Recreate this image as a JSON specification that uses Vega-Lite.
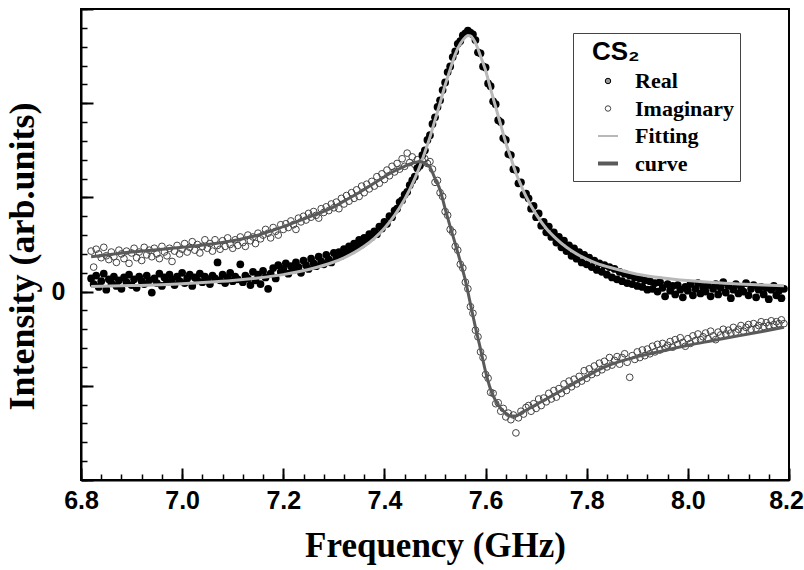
{
  "$schema": "https://vega.github.io/schema/vega-lite/v6.json",
  "width": 708,
  "height": 471,
  "autosize": {"type": "none"},
  "padding": {"left": 81, "top": 9, "right": 15, "bottom": 90},
  "background": "white",
  "config": {
    "view": {"stroke": "black", "strokeWidth": 2},
    "axis": {"domainColor": "black", "domainWidth": 2, "tickColor": "black", "grid": false, "labelColor": "black", "titleColor": "black"}
  },
  "datasets": {
    "pts": [
      {"f":6.820,"re":0.14,"im":0.43},{"f":6.825,"re":0.08,"im":0.26},{"f":6.830,"re":0.17,"im":0.45},{"f":6.835,"re":0.05,"im":0.40},{"f":6.840,"re":0.11,"im":0.36},
      {"f":6.845,"re":0.19,"im":0.47},{"f":6.850,"re":0.02,"im":0.38},{"f":6.855,"re":0.13,"im":0.34},{"f":6.860,"re":0.09,"im":0.42},{"f":6.865,"re":0.16,"im":0.37},
      {"f":6.870,"re":0.06,"im":0.31},{"f":6.875,"re":0.12,"im":0.44},{"f":6.880,"re":0.03,"im":0.40},{"f":6.885,"re":0.15,"im":0.35},{"f":6.890,"re":0.10,"im":0.43},
      {"f":6.895,"re":0.18,"im":0.30},{"f":6.900,"re":0.07,"im":0.41},{"f":6.905,"re":0.13,"im":0.46},{"f":6.910,"re":0.04,"im":0.36},{"f":6.915,"re":0.16,"im":0.42},
      {"f":6.920,"re":0.11,"im":0.33},{"f":6.925,"re":0.08,"im":0.47},{"f":6.930,"re":0.17,"im":0.39},{"f":6.935,"re":0.12,"im":0.44},{"f":6.940,"re":-0.01,"im":0.37},
      {"f":6.945,"re":0.14,"im":0.46},{"f":6.950,"re":0.09,"im":0.40},{"f":6.955,"re":0.19,"im":0.35},{"f":6.960,"re":0.06,"im":0.48},{"f":6.965,"re":0.15,"im":0.42},
      {"f":6.970,"re":0.10,"im":0.38},{"f":6.975,"re":0.18,"im":0.46},{"f":6.980,"re":0.13,"im":0.32},{"f":6.985,"re":0.07,"im":0.43},{"f":6.990,"re":0.16,"im":0.49},
      {"f":6.995,"re":0.11,"im":0.40},{"f":7.000,"re":0.20,"im":0.45},{"f":7.005,"re":0.09,"im":0.51},{"f":7.010,"re":0.14,"im":0.42},{"f":7.015,"re":0.18,"im":0.47},
      {"f":7.020,"re":0.06,"im":0.53},{"f":7.025,"re":0.15,"im":0.44},{"f":7.030,"re":0.12,"im":0.50},{"f":7.035,"re":0.19,"im":0.41},{"f":7.040,"re":0.10,"im":0.48},
      {"f":7.045,"re":0.16,"im":0.55},{"f":7.050,"re":0.13,"im":0.46},{"f":7.055,"re":0.08,"im":0.51},{"f":7.060,"re":0.17,"im":0.43},{"f":7.065,"re":0.14,"im":0.55},
      {"f":7.070,"re":0.31,"im":0.49},{"f":7.075,"re":0.12,"im":0.45},{"f":7.080,"re":0.18,"im":0.54},{"f":7.085,"re":0.09,"im":0.48},{"f":7.090,"re":0.15,"im":0.57},
      {"f":7.095,"re":0.20,"im":0.50},{"f":7.100,"re":0.11,"im":0.46},{"f":7.105,"re":0.16,"im":0.55},{"f":7.110,"re":0.13,"im":0.49},{"f":7.115,"re":0.29,"im":0.58},
      {"f":7.120,"re":0.10,"im":0.52},{"f":7.125,"re":0.17,"im":0.48},{"f":7.130,"re":0.14,"im":0.60},{"f":7.135,"re":0.07,"im":0.54},{"f":7.140,"re":0.21,"im":0.58},
      {"f":7.145,"re":0.12,"im":0.51},{"f":7.150,"re":0.18,"im":0.62},{"f":7.155,"re":0.08,"im":0.56},{"f":7.160,"re":0.22,"im":0.60},{"f":7.165,"re":0.15,"im":0.66},
      {"f":7.170,"re":0.03,"im":0.62},{"f":7.175,"re":0.19,"im":0.57},{"f":7.180,"re":0.25,"im":0.68},{"f":7.185,"re":0.14,"im":0.64},{"f":7.190,"re":0.28,"im":0.60},
      {"f":7.195,"re":0.21,"im":0.71},{"f":7.200,"re":0.24,"im":0.66},{"f":7.205,"re":0.30,"im":0.72},{"f":7.210,"re":0.19,"im":0.68},{"f":7.215,"re":0.27,"im":0.75},
      {"f":7.220,"re":0.23,"im":0.71},{"f":7.225,"re":0.31,"im":0.66},{"f":7.230,"re":0.26,"im":0.78},{"f":7.235,"re":0.20,"im":0.74},{"f":7.240,"re":0.33,"im":0.80},
      {"f":7.245,"re":0.28,"im":0.76},{"f":7.250,"re":0.24,"im":0.83},{"f":7.255,"re":0.35,"im":0.79},{"f":7.260,"re":0.30,"im":0.85},{"f":7.265,"re":0.27,"im":0.81},
      {"f":7.270,"re":0.37,"im":0.78},{"f":7.275,"re":0.32,"im":0.88},{"f":7.280,"re":0.29,"im":0.84},{"f":7.285,"re":0.39,"im":0.90},{"f":7.290,"re":0.34,"im":0.86},
      {"f":7.295,"re":0.31,"im":0.93},{"f":7.300,"re":0.41,"im":0.89},{"f":7.305,"re":0.36,"im":0.95},{"f":7.310,"re":0.42,"im":0.88},{"f":7.315,"re":0.38,"im":0.99},
      {"f":7.320,"re":0.45,"im":0.93},{"f":7.325,"re":0.41,"im":1.02},{"f":7.330,"re":0.48,"im":0.96},{"f":7.335,"re":0.44,"im":1.05},{"f":7.340,"re":0.51,"im":0.99},
      {"f":7.345,"re":0.47,"im":1.08},{"f":7.350,"re":0.55,"im":1.01},{"f":7.355,"re":0.50,"im":1.12},{"f":7.360,"re":0.57,"im":1.05},{"f":7.365,"re":0.54,"im":1.14},
      {"f":7.370,"re":0.61,"im":1.09},{"f":7.375,"re":0.58,"im":1.17},{"f":7.380,"re":0.64,"im":1.12},{"f":7.385,"re":0.61,"im":1.22},{"f":7.390,"re":0.69,"im":1.15},
      {"f":7.395,"re":0.67,"im":1.25},{"f":7.400,"re":0.74,"im":1.19},{"f":7.405,"re":0.72,"im":1.29},{"f":7.410,"re":0.80,"im":1.23},{"f":7.415,"re":0.79,"im":1.33},
      {"f":7.420,"re":0.86,"im":1.27},{"f":7.425,"re":0.88,"im":1.36},{"f":7.430,"re":0.95,"im":1.30},{"f":7.435,"re":0.97,"im":1.41},{"f":7.440,"re":1.03,"im":1.33},
      {"f":7.445,"re":1.06,"im":1.47},{"f":7.450,"re":1.13,"im":1.37},{"f":7.455,"re":1.18,"im":1.43},{"f":7.460,"re":1.22,"im":1.35},{"f":7.465,"re":1.31,"im":1.40},
      {"f":7.470,"re":1.34,"im":1.33},{"f":7.475,"re":1.45,"im":1.39},{"f":7.480,"re":1.50,"im":1.41},{"f":7.485,"re":1.61,"im":1.36},{"f":7.490,"re":1.66,"im":1.38},
      {"f":7.495,"re":1.78,"im":1.30},{"f":7.500,"re":1.85,"im":1.16},{"f":7.505,"re":1.96,"im":1.18},{"f":7.510,"re":2.03,"im":1.05},{"f":7.515,"re":2.14,"im":1.01},
      {"f":7.520,"re":2.22,"im":0.85},{"f":7.525,"re":2.33,"im":0.81},{"f":7.530,"re":2.39,"im":0.66},{"f":7.535,"re":2.49,"im":0.63},{"f":7.540,"re":2.55,"im":0.48},
      {"f":7.545,"re":2.63,"im":0.44},{"f":7.550,"re":2.66,"im":0.29},{"f":7.555,"re":2.72,"im":0.25},{"f":7.560,"re":2.74,"im":0.10},{"f":7.565,"re":2.77,"im":0.03},
      {"f":7.570,"re":2.75,"im":-0.16},{"f":7.575,"re":2.73,"im":-0.23},{"f":7.580,"re":2.67,"im":-0.41},{"f":7.585,"re":2.54,"im":-0.48},{"f":7.590,"re":2.53,"im":-0.64},
      {"f":7.595,"re":2.39,"im":-0.70},{"f":7.600,"re":2.38,"im":-0.88},{"f":7.605,"re":2.21,"im":-0.92},{"f":7.610,"re":2.18,"im":-1.07},{"f":7.615,"re":2.02,"im":-1.08},
      {"f":7.620,"re":1.99,"im":-1.19},{"f":7.625,"re":1.82,"im":-1.18},{"f":7.630,"re":1.80,"im":-1.27},{"f":7.635,"re":1.63,"im":-1.24},{"f":7.640,"re":1.61,"im":-1.33},
      {"f":7.645,"re":1.46,"im":-1.29},{"f":7.650,"re":1.45,"im":-1.36},{"f":7.655,"re":1.30,"im":-1.31},{"f":7.660,"re":1.29,"im":-1.50},{"f":7.665,"re":1.15,"im":-1.34},
      {"f":7.670,"re":1.16,"im":-1.27},{"f":7.675,"re":1.03,"im":-1.30},{"f":7.680,"re":1.04,"im":-1.23},{"f":7.685,"re":0.99,"im":-1.21},{"f":7.690,"re":0.88,"im":-1.27},
      {"f":7.695,"re":0.91,"im":-1.19},{"f":7.700,"re":0.79,"im":-1.24},{"f":7.705,"re":0.83,"im":-1.14},{"f":7.710,"re":0.70,"im":-1.21},{"f":7.715,"re":0.74,"im":-1.13},
      {"f":7.720,"re":0.63,"im":-1.17},{"f":7.725,"re":0.69,"im":-1.08},{"f":7.730,"re":0.58,"im":-1.14},{"f":7.735,"re":0.63,"im":-1.05},{"f":7.740,"re":0.52,"im":-1.12},
      {"f":7.745,"re":0.58,"im":-1.03},{"f":7.750,"re":0.47,"im":-1.08},{"f":7.755,"re":0.54,"im":-0.98},{"f":7.760,"re":0.43,"im":-1.05},{"f":7.765,"re":0.49,"im":-0.95},
      {"f":7.770,"re":0.38,"im":-1.01},{"f":7.775,"re":0.46,"im":-0.93},{"f":7.780,"re":0.35,"im":-0.98},{"f":7.785,"re":0.42,"im":-0.90},{"f":7.790,"re":0.31,"im":-0.95},
      {"f":7.795,"re":0.39,"im":-0.84},{"f":7.800,"re":0.29,"im":-0.92},{"f":7.805,"re":0.36,"im":-0.82},{"f":7.810,"re":0.26,"im":-0.88},{"f":7.815,"re":0.33,"im":-0.79},
      {"f":7.820,"re":0.23,"im":-0.86},{"f":7.825,"re":0.30,"im":-0.76},{"f":7.830,"re":0.21,"im":-0.83},{"f":7.835,"re":0.28,"im":-0.74},{"f":7.840,"re":0.18,"im":-0.80},
      {"f":7.845,"re":0.26,"im":-0.70},{"f":7.850,"re":0.15,"im":-0.78},{"f":7.855,"re":0.24,"im":-0.73},{"f":7.860,"re":0.13,"im":-0.69},{"f":7.865,"re":0.21,"im":-0.77},
      {"f":7.870,"re":0.11,"im":-0.70},{"f":7.875,"re":0.19,"im":-0.66},{"f":7.880,"re":0.09,"im":-0.75},{"f":7.885,"re":0.17,"im":-0.91},{"f":7.890,"re":0.08,"im":-0.68},
      {"f":7.895,"re":0.15,"im":-0.72},{"f":7.900,"re":0.06,"im":-0.64},{"f":7.905,"re":0.14,"im":-0.70},{"f":7.910,"re":0.05,"im":-0.62},{"f":7.915,"re":0.12,"im":-0.68},
      {"f":7.920,"re":0.02,"im":-0.61},{"f":7.925,"re":0.11,"im":-0.66},{"f":7.930,"re":0.03,"im":-0.58},{"f":7.935,"re":0.09,"im":-0.64},{"f":7.940,"re":0.00,"im":-0.56},
      {"f":7.945,"re":0.10,"im":-0.62},{"f":7.950,"re":0.04,"im":-0.55},{"f":7.955,"re":-0.05,"im":-0.60},{"f":7.960,"re":0.08,"im":-0.57},{"f":7.965,"re":0.01,"im":-0.53},
      {"f":7.970,"re":0.06,"im":-0.59},{"f":7.975,"re":-0.03,"im":-0.51},{"f":7.980,"re":0.07,"im":-0.56},{"f":7.985,"re":0.02,"im":-0.49},{"f":7.990,"re":-0.06,"im":-0.54},
      {"f":7.995,"re":0.05,"im":-0.58},{"f":8.000,"re":0.01,"im":-0.50},{"f":8.005,"re":0.08,"im":-0.55},{"f":8.010,"re":-0.04,"im":-0.47},{"f":8.015,"re":0.03,"im":-0.52},
      {"f":8.020,"re":0.09,"im":-0.45},{"f":8.025,"re":-0.02,"im":-0.51},{"f":8.030,"re":0.05,"im":-0.48},{"f":8.035,"re":0.00,"im":-0.44},{"f":8.040,"re":0.07,"im":-0.50},
      {"f":8.045,"re":-0.05,"im":-0.42},{"f":8.050,"re":0.03,"im":-0.47},{"f":8.055,"re":0.08,"im":-0.51},{"f":8.060,"re":-0.03,"im":-0.43},{"f":8.065,"re":0.04,"im":-0.46},
      {"f":8.070,"re":0.10,"im":-0.40},{"f":8.075,"re":-0.01,"im":-0.45},{"f":8.080,"re":0.06,"im":-0.41},{"f":8.085,"re":-0.07,"im":-0.44},{"f":8.090,"re":0.02,"im":-0.38},
      {"f":8.095,"re":0.08,"im":-0.43},{"f":8.100,"re":-0.02,"im":-0.40},{"f":8.105,"re":0.05,"im":-0.36},{"f":8.110,"re":0.00,"im":-0.42},{"f":8.115,"re":0.09,"im":-0.38},
      {"f":8.120,"re":-0.04,"im":-0.35},{"f":8.125,"re":0.03,"im":-0.40},{"f":8.130,"re":0.07,"im":-0.34},{"f":8.135,"re":-0.06,"im":-0.39},{"f":8.140,"re":0.02,"im":-0.36},
      {"f":8.145,"re":0.05,"im":-0.32},{"f":8.150,"re":-0.03,"im":-0.37},{"f":8.155,"re":0.04,"im":-0.33},{"f":8.160,"re":-0.08,"im":-0.36},{"f":8.165,"re":0.02,"im":-0.31},
      {"f":8.170,"re":0.06,"im":-0.35},{"f":8.175,"re":-0.04,"im":-0.32},{"f":8.180,"re":0.01,"im":-0.34},{"f":8.185,"re":-0.07,"im":-0.30},{"f":8.190,"re":0.03,"im":-0.34}
    ],
    "fit": [
      {"f":6.82,"fr":0.053,"fi":0.37},{"f":6.90,"fr":0.064,"fi":0.42},{"f":7.00,"fr":0.084,"fi":0.47},{"f":7.05,"fr":0.099,"fi":0.50},{"f":7.10,"fr":0.118,"fi":0.54},
      {"f":7.15,"fr":0.144,"fi":0.60},{"f":7.20,"fr":0.18,"fi":0.69},{"f":7.25,"fr":0.234,"fi":0.79},{"f":7.30,"fr":0.314,"fi":0.90},{"f":7.32,"fr":0.359,"fi":0.96},
      {"f":7.34,"fr":0.414,"fi":1.02},{"f":7.36,"fr":0.481,"fi":1.084},{"f":7.38,"fr":0.566,"fi":1.152},{"f":7.40,"fr":0.673,"fi":1.22},{"f":7.42,"fr":0.81,"fi":1.28},
      {"f":7.44,"fr":0.98,"fi":1.33},{"f":7.46,"fr":1.2,"fi":1.37},{"f":7.47,"fr":1.33,"fi":1.38},{"f":7.48,"fr":1.48,"fi":1.36},{"f":7.49,"fr":1.64,"fi":1.32},
      {"f":7.50,"fr":1.82,"fi":1.20},{"f":7.51,"fr":2.0,"fi":1.08},{"f":7.52,"fr":2.19,"fi":0.88},{"f":7.53,"fr":2.36,"fi":0.69},{"f":7.54,"fr":2.52,"fi":0.51},
      {"f":7.55,"fr":2.63,"fi":0.32},{"f":7.56,"fr":2.70,"fi":0.12},{"f":7.565,"fr":2.72,"fi":0.0},{"f":7.57,"fr":2.715,"fi":-0.13},{"f":7.58,"fr":2.64,"fi":-0.38},
      {"f":7.59,"fr":2.50,"fi":-0.61},{"f":7.60,"fr":2.35,"fi":-0.85},{"f":7.61,"fr":2.15,"fi":-1.04},{"f":7.62,"fr":1.96,"fi":-1.16},{"f":7.63,"fr":1.77,"fi":-1.24},
      {"f":7.64,"fr":1.58,"fi":-1.29},{"f":7.65,"fr":1.42,"fi":-1.32},{"f":7.66,"fr":1.26,"fi":-1.32},{"f":7.67,"fr":1.13,"fi":-1.29},{"f":7.68,"fr":1.01,"fi":-1.26},
      {"f":7.70,"fr":0.82,"fi":-1.20},{"f":7.72,"fr":0.67,"fi":-1.14},{"f":7.74,"fr":0.56,"fi":-1.08},{"f":7.76,"fr":0.47,"fi":-1.02},{"f":7.78,"fr":0.40,"fi":-0.96},
      {"f":7.80,"fr":0.345,"fi":-0.90},{"f":7.82,"fr":0.30,"fi":-0.84},{"f":7.85,"fr":0.25,"fi":-0.77},{"f":7.90,"fr":0.185,"fi":-0.69},{"f":7.95,"fr":0.145,"fi":-0.63},
      {"f":8.00,"fr":0.117,"fi":-0.57},{"f":8.05,"fr":0.096,"fi":-0.52},{"f":8.10,"fr":0.081,"fi":-0.47},{"f":8.15,"fr":0.07,"fi":-0.42},{"f":8.19,"fr":0.062,"fi":-0.38}
    ]
  },
  "layer": [
    {
      "data": {"name": "pts"},
      "mark": {"type": "point", "filled": false, "size": 45, "strokeWidth": 1, "opacity": 1},
      "encoding": {
        "x": {"field": "f", "type": "quantitative", "scale": {"domain": [6.8, 8.2], "nice": false, "zero": false},
          "axis": {"orient": "bottom", "values": [6.8, 7.0, 7.2, 7.4, 7.6, 7.8, 8.0, 8.2], "format": ".1f", "tickSize": -12, "tickWidth": 2,
            "labelFont": "Liberation Sans", "labelFontWeight": "bold", "labelFontSize": 25, "labelPadding": 20, "labelFlush": false, "labelOverlap": false,
            "labelOffset": {"condition": {"test": "datum.value > 8.19", "value": -3}, "value": 0},
            "title": "Frequency (GHz)", "titleFont": "Liberation Serif", "titleFontWeight": "bold", "titleFontSize": 35, "titlePadding": 15}},
        "y": {"field": "im", "type": "quantitative", "scale": {"domain": [-2, 3], "nice": false, "zero": false},
          "axis": {"orient": "left", "values": [-2, -1, 0, 1, 2, 3], "tickSize": -12, "tickWidth": 2, "labelExpr": "datum.value === 0 ? '0' : ''",
            "labelFont": "Liberation Sans", "labelFontWeight": "bold", "labelFontSize": 25, "labelPadding": 28,
            "title": "Intensity (arb.units)", "titleFont": "Liberation Serif", "titleFontWeight": "bold", "titleFontSize": 36, "titlePadding": 10, "titleY": 247}},
        "color": {"datum": "Imaginary",
          "scale": {"domain": ["Real", "Imaginary", "Fitting", "curve"], "range": ["#000000", "#444444", "#b8b8b8", "#5a5a5a"]},
          "legend": {"title": "CS₂", "orient": "none", "legendX": 492, "legendY": 24, "direction": "vertical",
            "strokeColor": "#444444", "fillColor": "white", "padding": 6, "cornerRadius": 0,
            "titleFont": "Liberation Sans", "titleFontWeight": "bold", "titleFontSize": 26, "titleColor": "black", "titlePadding": 5,
            "labelFont": "Liberation Serif", "labelFontWeight": "bold", "labelFontSize": 22, "labelColor": "black", "labelOffset": 16,
            "symbolSize": 400, "symbolOffset": 18, "rowPadding": 5.5,
            "encode": {
              "title": {"update": {"dx": {"value": 13}}},
              "symbols": {"update": {
                "shape": {"signal": "datum.value === 'Real' || datum.value === 'Imaginary' ? 'circle' : 'stroke'"},
                "size": {"signal": "datum.value === 'Real' || datum.value === 'Imaginary' ? 30 : 400"},
                "fillOpacity": {"signal": "datum.value === 'Real' ? 0.4 : 0"},
                "strokeWidth": {"signal": "datum.value === 'Real' || datum.value === 'Imaginary' ? 1 : datum.value === 'Fitting' ? 2 : 4"},
                "opacity": {"value": 1}
              }}
            }}}
      }
    },
    {
      "data": {"name": "pts"},
      "mark": {"type": "point", "filled": true, "size": 60, "opacity": 1},
      "encoding": {
        "x": {"field": "f", "type": "quantitative",
          "axis": {"orient": "bottom", "values": [6.8,6.84,6.88,6.92,6.96,7.0,7.04,7.08,7.12,7.16,7.2,7.24,7.28,7.32,7.36,7.4,7.44,7.48,7.52,7.56,7.6,7.64,7.68,7.72,7.76,7.8,7.84,7.88,7.92,7.96,8.0,8.04,8.08,8.12,8.16,8.2],
            "tickSize": -6, "tickWidth": 1.5, "labels": false, "domain": false, "title": null}},
        "y": {"field": "re", "type": "quantitative",
          "axis": {"orient": "left", "values": [-2,-1.8,-1.6,-1.4,-1.2,-1,-0.8,-0.6,-0.4,-0.2,0,0.2,0.4,0.6,0.8,1,1.2,1.4,1.6,1.8,2,2.2,2.4,2.6,2.8,3],
            "tickSize": -6, "tickWidth": 1.5, "labels": false, "domain": false, "title": null}},
        "color": {"datum": "Real",
          "legend": {"title": "CS₂", "orient": "none", "legendX": 492, "legendY": 24, "direction": "vertical",
            "strokeColor": "#444444", "fillColor": "white", "padding": 6, "cornerRadius": 0,
            "titleFont": "Liberation Sans", "titleFontWeight": "bold", "titleFontSize": 26, "titleColor": "black", "titlePadding": 5,
            "labelFont": "Liberation Serif", "labelFontWeight": "bold", "labelFontSize": 22, "labelColor": "black", "labelOffset": 16,
            "symbolSize": 400, "symbolOffset": 18, "rowPadding": 5.5,
            "encode": {
              "title": {"update": {"dx": {"value": 13}}},
              "symbols": {"update": {
                "shape": {"signal": "datum.value === 'Real' || datum.value === 'Imaginary' ? 'circle' : 'stroke'"},
                "size": {"signal": "datum.value === 'Real' || datum.value === 'Imaginary' ? 30 : 400"},
                "fillOpacity": {"signal": "datum.value === 'Real' ? 0.4 : 0"},
                "strokeWidth": {"signal": "datum.value === 'Real' || datum.value === 'Imaginary' ? 1 : datum.value === 'Fitting' ? 2 : 4"},
                "opacity": {"value": 1}
              }}
            }}}
      }
    },
    {
      "mark": {"type": "rule", "strokeDash": [6, 4], "strokeWidth": 1, "color": "black"},
      "encoding": {"y": {"datum": 0, "type": "quantitative", "axis": null}}
    },
    {
      "data": {"name": "fit"},
      "mark": {"type": "line", "strokeWidth": 3, "interpolate": "monotone"},
      "encoding": {
        "x": {"field": "f", "type": "quantitative", "axis": null},
        "y": {"field": "fr", "type": "quantitative", "axis": null},
        "color": {"datum": "Fitting",
          "legend": {"title": "CS₂", "orient": "none", "legendX": 492, "legendY": 24, "direction": "vertical",
            "strokeColor": "#444444", "fillColor": "white", "padding": 6, "cornerRadius": 0,
            "titleFont": "Liberation Sans", "titleFontWeight": "bold", "titleFontSize": 26, "titleColor": "black", "titlePadding": 5,
            "labelFont": "Liberation Serif", "labelFontWeight": "bold", "labelFontSize": 22, "labelColor": "black", "labelOffset": 16,
            "symbolSize": 400, "symbolOffset": 18, "rowPadding": 5.5,
            "encode": {
              "title": {"update": {"dx": {"value": 13}}},
              "symbols": {"update": {
                "shape": {"signal": "datum.value === 'Real' || datum.value === 'Imaginary' ? 'circle' : 'stroke'"},
                "size": {"signal": "datum.value === 'Real' || datum.value === 'Imaginary' ? 30 : 400"},
                "fillOpacity": {"signal": "datum.value === 'Real' ? 0.4 : 0"},
                "strokeWidth": {"signal": "datum.value === 'Real' || datum.value === 'Imaginary' ? 1 : datum.value === 'Fitting' ? 2 : 4"},
                "opacity": {"value": 1}
              }}
            }}}
      }
    },
    {
      "data": {"name": "fit"},
      "mark": {"type": "line", "strokeWidth": 3, "interpolate": "monotone"},
      "encoding": {
        "x": {"field": "f", "type": "quantitative", "axis": null},
        "y": {"field": "fi", "type": "quantitative", "axis": null},
        "color": {"datum": "curve",
          "legend": {"title": "CS₂", "orient": "none", "legendX": 492, "legendY": 24, "direction": "vertical",
            "strokeColor": "#444444", "fillColor": "white", "padding": 6, "cornerRadius": 0,
            "titleFont": "Liberation Sans", "titleFontWeight": "bold", "titleFontSize": 26, "titleColor": "black", "titlePadding": 5,
            "labelFont": "Liberation Serif", "labelFontWeight": "bold", "labelFontSize": 22, "labelColor": "black", "labelOffset": 16,
            "symbolSize": 400, "symbolOffset": 18, "rowPadding": 5.5,
            "encode": {
              "title": {"update": {"dx": {"value": 13}}},
              "symbols": {"update": {
                "shape": {"signal": "datum.value === 'Real' || datum.value === 'Imaginary' ? 'circle' : 'stroke'"},
                "size": {"signal": "datum.value === 'Real' || datum.value === 'Imaginary' ? 30 : 400"},
                "fillOpacity": {"signal": "datum.value === 'Real' ? 0.4 : 0"},
                "strokeWidth": {"signal": "datum.value === 'Real' || datum.value === 'Imaginary' ? 1 : datum.value === 'Fitting' ? 2 : 4"},
                "opacity": {"value": 1}
              }}
            }}}
      }
    }
  ],
  "resolve": {"axis": {"x": "independent", "y": "independent"}}
}
